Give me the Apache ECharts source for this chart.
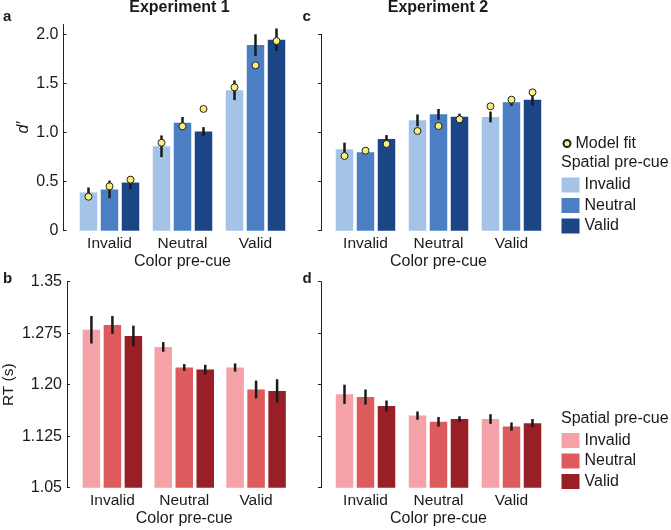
<!DOCTYPE html>
<html>
<head>
<meta charset="utf-8">
<script src="https://cdn.jsdelivr.net/npm/echarts@6/dist/echarts.min.js"></script>
<style>
  html, body { margin: 0; padding: 0; background: #ffffff; }
  #chart { width: 671px; height: 530px; }
</style>
</head>
<body>
<div id="chart"></div>
<script>
// ---------- data ----------
const colorCues = ['Invalid', 'Neutral', 'Valid'];      // x categories (Color pre-cue)
const spatialCues = ['Invalid', 'Neutral', 'Valid'];    // series (Spatial pre-cue)

// Experiment 1, d' (rows: spatial cue; columns: color cue)
const exp1DInvalid = [0.39, 0.86, 1.43];
const exp1DNeutral = [0.42, 1.10, 1.89];
const exp1DValid   = [0.49, 1.01, 1.945];
const exp1DErrInvalid = [0.05, 0.11, 0.10];
const exp1DErrNeutral = [0.09, 0.058, 0.11];
const exp1DErrValid   = [0.065, 0.045, 0.115];
const exp1FitInvalid = [0.346, 0.896, 1.46];
const exp1FitNeutral = [0.452, 1.063, 1.684];
const exp1FitValid   = [0.52, 1.24, 1.932];

// Experiment 2, d'
const exp2DInvalid = [0.83, 1.124, 1.158];
const exp2DNeutral = [0.80, 1.185, 1.307];
const exp2DValid   = [0.934, 1.161, 1.334];
const exp2DErrInvalid = [0.067, 0.06, 0.055];
const exp2DErrNeutral = [0.02, 0.055, 0.035];
const exp2DErrValid   = [0.04, 0.03, 0.06];
const exp2FitInvalid = [0.761, 1.015, 1.267];
const exp2FitNeutral = [0.815, 1.066, 1.334];
const exp2FitValid   = [0.883, 1.134, 1.409];

// Experiment 1, RT (s)
const exp1RTInvalid = [1.280, 1.255, 1.225];
const exp1RTNeutral = [1.287, 1.225, 1.193];
const exp1RTValid   = [1.271, 1.222, 1.191];
const exp1RTErrInvalid = [0.020, 0.007, 0.006];
const exp1RTErrNeutral = [0.013, 0.005, 0.013];
const exp1RTErrValid   = [0.015, 0.007, 0.017];

// Experiment 2, RT (s)
const exp2RTInvalid = [1.186, 1.155, 1.150];
const exp2RTNeutral = [1.182, 1.146, 1.139];
const exp2RTValid   = [1.169, 1.150, 1.144];
const exp2RTErrInvalid = [0.014, 0.006, 0.007];
const exp2RTErrNeutral = [0.011, 0.007, 0.006];
const exp2RTErrValid   = [0.008, 0.004, 0.006];

const dTicks = [0, 0.5, 1.0, 1.5, 2.0];
const rtTicks = [1.05, 1.125, 1.20, 1.275, 1.35];

// ---------- styling ----------
const FONT = "'Liberation Sans', Arial, Helvetica, sans-serif";
const blues = ['#a3c3e7', '#4a80c3', '#1b4585'];
const reds  = ['#f4a1a7', '#de5b5d', '#981f25'];
const BAR_W = 17.5, BAR_GAP = 3.5, PITCH = BAR_W + BAR_GAP;
const TEXT = '#1a1a1a';

const chart = echarts.init(document.getElementById('chart'), null, { renderer: 'canvas' });

const grids = [
  { left: 73,  top: 24.5, width: 219, height: 206.2 },  // a
  { left: 73,  top: 281.7, width: 219, height: 206 },   // b
  { left: 329, top: 34.3, width: 219, height: 196.4 },  // c
  { left: 329, top: 281.7, width: 219, height: 206 }    // d
];

function xAxisFor(gi) {
  return {
    type: 'category', gridIndex: gi, data: colorCues,
    axisLine: { show: false }, axisTick: { show: false },
    axisLabel: { fontSize: 15.5, color: TEXT, fontFamily: FONT, margin: 5 },
    name: 'Color pre-cue', nameLocation: 'middle', nameGap: 23,
    nameTextStyle: { fontSize: 16, color: TEXT, fontFamily: FONT }
  };
}

function dFmt(v) { return Math.abs(v) < 1e-9 ? '0' : v.toFixed(1); }
function rtFmt(v) {
  let s = (Math.round(v * 1000) / 1000).toFixed(3);
  s = s.replace(/0+$/, '');
  const dec = s.split('.')[1] || '';
  if (dec.length < 2) s = v.toFixed(2);
  return s;
}

const yAxes = [
  { // a
    type: 'value', gridIndex: 0, min: 0, max: 2.1, offset: 9.5,
    splitLine: { show: false },
    axisLine: { show: true, lineStyle: { color: '#222', width: 1 } },
    axisTick: { show: true, inside: true, length: 3, customValues: dTicks, lineStyle: { color: '#222' } },
    axisLabel: { customValues: dTicks, formatter: dFmt, fontSize: 16, color: TEXT, fontFamily: FONT, margin: 5 },
    name: 'd\u2032', nameLocation: 'middle', nameGap: 32,
    nameTextStyle: { fontSize: 16, fontStyle: 'italic', color: TEXT, fontFamily: FONT }
  },
  { // b
    type: 'value', gridIndex: 1, min: 1.05, max: 1.35, offset: 9.5,
    splitLine: { show: false },
    axisLine: { show: true, lineStyle: { color: '#222', width: 1 } },
    axisTick: { show: true, inside: true, length: 3, customValues: rtTicks, lineStyle: { color: '#222' } },
    axisLabel: { customValues: rtTicks, formatter: rtFmt, fontSize: 16, color: TEXT, fontFamily: FONT, margin: 5 },
    name: 'RT (s)', nameLocation: 'middle', nameGap: 50,
    nameTextStyle: { fontSize: 15.5, color: TEXT, fontFamily: FONT }
  },
  { // c
    type: 'value', gridIndex: 2, min: 0, max: 2.0, offset: 8,
    splitLine: { show: false },
    axisLine: { show: true, lineStyle: { color: '#222', width: 1 } },
    axisTick: { show: true, inside: false, length: 3, customValues: dTicks, lineStyle: { color: '#222' } },
    axisLabel: { show: false }
  },
  { // d
    type: 'value', gridIndex: 3, min: 1.05, max: 1.35, offset: 8,
    splitLine: { show: false },
    axisLine: { show: true, lineStyle: { color: '#222', width: 1 } },
    axisTick: { show: true, inside: false, length: 3, customValues: rtTicks, lineStyle: { color: '#222' } },
    axisLabel: { show: false }
  }
];

const series = [];

function addPanel(gi, vals, errs, fits, colors, nameSuffix) {
  vals.forEach((arr, j) => {
    const nm = spatialCues[j] + nameSuffix;
    series.push({
      type: 'bar', name: nm, xAxisIndex: gi, yAxisIndex: gi,
      data: arr, barWidth: BAR_W, barGap: (BAR_GAP / BAR_W * 100) + '%',
      itemStyle: { color: colors[j] }, z: 2, silent: true
    });
    const off = (j - 1) * PITCH;
    series.push({
      type: 'custom', xAxisIndex: gi, yAxisIndex: gi, z: 3, silent: true,
      data: arr.map((v, i) => [i, v, errs[j][i]]),
      renderItem: function (params, api) {
        const idx = api.value(0), v = api.value(1), e = api.value(2);
        const p1 = api.coord([idx, v + e]);
        const p2 = api.coord([idx, v - e]);
        return {
          type: 'line',
          shape: { x1: p1[0] + off, y1: p1[1], x2: p2[0] + off, y2: p2[1] },
          style: { stroke: '#1a1a1a', lineWidth: 2.5 }
        };
      }
    });
    if (fits) {
      series.push({
        type: 'scatter', name: 'Model fit', xAxisIndex: gi, yAxisIndex: gi, z: 4, silent: true,
        data: fits[j], symbol: 'circle', symbolSize: 7, symbolOffset: [off, 0],
        itemStyle: { color: '#f9ef7b', borderColor: '#222', borderWidth: 1, opacity: 1 }
      });
    }
  });
}

addPanel(0, [exp1DInvalid, exp1DNeutral, exp1DValid],
  [exp1DErrInvalid, exp1DErrNeutral, exp1DErrValid],
  [exp1FitInvalid, exp1FitNeutral, exp1FitValid], blues, '');
addPanel(2, [exp2DInvalid, exp2DNeutral, exp2DValid],
  [exp2DErrInvalid, exp2DErrNeutral, exp2DErrValid],
  [exp2FitInvalid, exp2FitNeutral, exp2FitValid], blues, '');
addPanel(1, [exp1RTInvalid, exp1RTNeutral, exp1RTValid],
  [exp1RTErrInvalid, exp1RTErrNeutral, exp1RTErrValid], null, reds, ' (RT)');
addPanel(3, [exp2RTInvalid, exp2RTNeutral, exp2RTValid],
  [exp2RTErrInvalid, exp2RTErrNeutral, exp2RTErrValid], null, reds, ' (RT)');

const titleStyle = (size, bold) => ({ fontSize: size, fontWeight: bold ? 'bold' : 'normal', color: TEXT, fontFamily: FONT });

const option = {
  animation: false,
  backgroundColor: '#ffffff',
  textStyle: { fontFamily: FONT },
  title: [
    { text: 'Experiment 1', left: 179.5, textAlign: 'center', top: 0, padding: 0, textStyle: titleStyle(16, true) },
    { text: 'Experiment 2', left: 438, textAlign: 'center', top: 0, padding: 0, textStyle: titleStyle(16, true) },
    { text: 'a', left: 3, top: 9, padding: 0, textStyle: titleStyle(15, true) },
    { text: 'b', left: 3, top: 271, padding: 0, textStyle: titleStyle(15, true) },
    { text: 'c', left: 302.5, top: 9, padding: 0, textStyle: titleStyle(15, true) },
    { text: 'd', left: 302.5, top: 271, padding: 0, textStyle: titleStyle(15, true) },
    { text: 'Spatial pre-cue', left: 561, top: 155, padding: 0, textStyle: titleStyle(16, false) },
    { text: 'Spatial pre-cue', left: 561, top: 411, padding: 0, textStyle: titleStyle(16, false) }
  ],
  legend: [
    {
      data: ['Model fit'], left: 562.5, top: 135.5, padding: 0, orient: 'vertical',
      itemWidth: 7, itemHeight: 7, selectedMode: false,
      textStyle: { fontSize: 16, color: TEXT, fontFamily: FONT }
    },
    {
      data: spatialCues, left: 561.5, top: 177, padding: 0, orient: 'vertical',
      itemWidth: 18, itemHeight: 15, itemGap: 4.5, icon: 'rect', selectedMode: false,
      textStyle: { fontSize: 16, color: TEXT, fontFamily: FONT }
    },
    {
      data: spatialCues.map(s => s + ' (RT)'), left: 561.5, top: 432.5, padding: 0, orient: 'vertical',
      itemWidth: 18, itemHeight: 15, itemGap: 4.5, icon: 'rect', selectedMode: false,
      formatter: n => n.replace(' (RT)', ''),
      textStyle: { fontSize: 16, color: TEXT, fontFamily: FONT }
    }
  ],
  grid: grids,
  xAxis: [xAxisFor(0), xAxisFor(1), xAxisFor(2), xAxisFor(3)],
  yAxis: yAxes,
  series: series
};

chart.setOption(option);
</script>
</body>
</html>
